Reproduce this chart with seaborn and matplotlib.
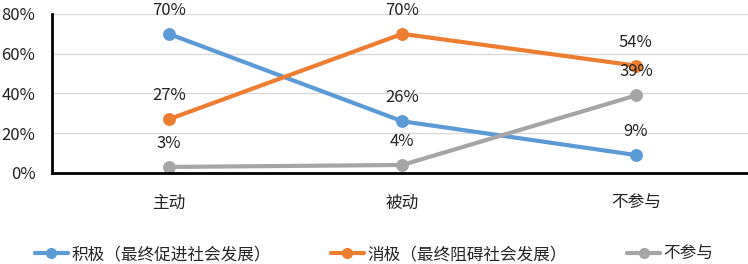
import pandas as pd
import matplotlib
matplotlib.use("Agg")
import matplotlib.pyplot as plt
import seaborn as sns
from matplotlib.lines import Line2D

categories = ["主动", "被动", "不参与"]
series_names = ["积极（最终促进社会发展）", "消极（最终阻碍社会发展）", "不参与"]
positive = [70, 26, 9]
negative = [27, 70, 54]
absent = [3, 4, 39]
colors = ["#5B9BD5", "#ED7D31", "#A5A5A5"]

sns.set_style("white")
plt.rcParams["font.family"] = ["Noto Sans CJK SC", "DejaVu Sans"]

rows = []
for name, vals in zip(series_names, [positive, negative, absent]):
    for c, v in zip(categories, vals):
        rows.append({"cat": c, "val": v, "series": name})
df = pd.DataFrame(rows)

fig = plt.figure(figsize=(7.48, 2.64), dpi=100)
ax = fig.add_axes([0.0695, 0.345, 0.9305, 0.602])

sns.pointplot(data=df, x="cat", y="val", hue="series", order=categories,
              hue_order=series_names, palette=colors, markers="o",
              linestyles="-", ax=ax, legend=False, markersize=7, linewidth=3)

for name, vals in zip(series_names, [positive, negative, absent]):
    for i, v in enumerate(vals):
        ax.annotate(f"{v}%", (i, v), xytext=(0, 17), textcoords="offset points",
                    ha="center", va="center", fontsize=12, color="#222222")

ax.set_ylim(0, 80)
ax.set_xlim(-0.5, 2.48)
ax.set_yticks([0, 20, 40, 60, 80])
ax.set_yticklabels([f"{t}%" for t in [0, 20, 40, 60, 80]], fontsize=12)
ax.tick_params(axis="x", labelsize=12, length=0, pad=16)
ax.tick_params(axis="y", length=0, pad=12)
ax.set_xlabel("")
ax.set_ylabel("")
ax.yaxis.grid(True, color="#D9D9D9", linewidth=1)
ax.set_axisbelow(True)
for s in ["top", "right"]:
    ax.spines[s].set_visible(False)
for s in ["left", "bottom"]:
    ax.spines[s].set_color("black")
    ax.spines[s].set_linewidth(2)
for lbl in ax.get_yticklabels() + ax.get_xticklabels():
    lbl.set_color("#222222")

handles = [Line2D([0], [0], color=c, linewidth=3, marker="o", markersize=7)
           for c in colors]
fig.legend(handles, series_names, loc="center", bbox_to_anchor=(0.5, 0.035),
           ncol=3, frameon=False, fontsize=12, handlelength=2.0,
           columnspacing=3.6, handletextpad=0.2)

fig.savefig("out.png", dpi=100)
